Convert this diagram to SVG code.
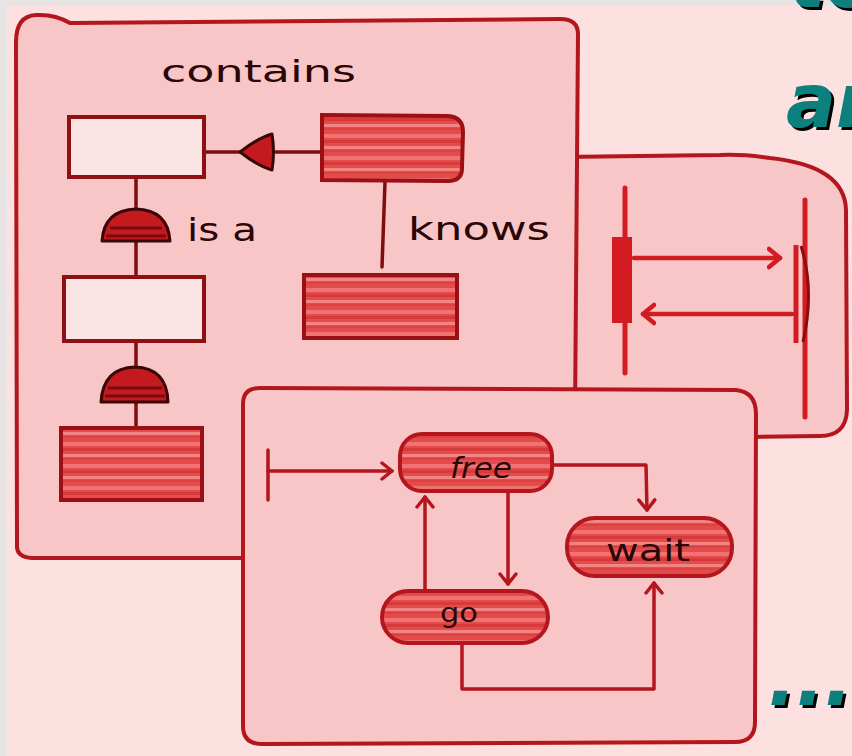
<svg xmlns="http://www.w3.org/2000/svg" width="852" height="756" viewBox="0 0 852 756">
  <style>
    .panel { fill: #f8c6c6; stroke: #b3161c; stroke-width: 4; stroke-linejoin: round; }
    .white { fill: #fbe4e4; stroke: #8e1014; stroke-width: 4; }
    .red { fill: url(#streak); stroke: #9a1014; stroke-width: 4; }
    .pill { fill: url(#streak); stroke: #b3161c; stroke-width: 4; }
    .link { fill: none; stroke: #7e0c10; stroke-width: 3.5; stroke-linecap: round; }
    .flow { fill: none; stroke: #b3161c; stroke-width: 3.5; stroke-linecap: round; stroke-linejoin: round; }
    .msg { fill: none; stroke: #d21c22; stroke-width: 4.5; stroke-linecap: round; }
    .life { fill: none; stroke: #d21c22; stroke-width: 5; stroke-linecap: round; }
    .hand { font-family: "DejaVu Sans", "Liberation Sans", sans-serif; fill: #2a0606; }
    .head { font-family: "DejaVu Sans", "Liberation Sans", sans-serif; font-weight: bold; font-style: italic; fill: #0b7f7c; filter: url(#shadow); }
  </style>
  <defs>
    <pattern id="streak" patternUnits="userSpaceOnUse" width="60" height="22">
      <rect width="60" height="22" fill="#e44c4c"/>
      <rect y="2" width="60" height="4" fill="#f07272"/>
      <rect y="8" width="60" height="3" fill="#d63a3a"/>
      <rect y="14" width="60" height="3" fill="#f28484"/>
      <rect y="18" width="60" height="2" fill="#dc4242"/>
    </pattern>
    <filter id="shadow" x="-10%" y="-10%" width="130%" height="130%">
      <feDropShadow dx="3" dy="3" stdDeviation="0" flood-color="#000" flood-opacity="1"/>
    </filter>
    <marker id="open" markerUnits="userSpaceOnUse" markerWidth="24" markerHeight="24" refX="12" refY="12" orient="auto">
      <path d="M2,4 L12,12 L2,20" fill="none" stroke="#b3161c" stroke-width="3.5" stroke-linecap="round" stroke-linejoin="round"/>
    </marker>
    <marker id="openMsg" markerUnits="userSpaceOnUse" markerWidth="26" markerHeight="26" refX="13" refY="13" orient="auto">
      <path d="M2,4 L13,13 L2,22" fill="none" stroke="#d21c22" stroke-width="4.5" stroke-linecap="round" stroke-linejoin="round"/>
    </marker>
  </defs>

  <!-- page -->
  <rect width="852" height="756" fill="#fde1e1"/>
  <rect width="852" height="6" fill="#e9e4e4"/>
  <rect width="7" height="756" fill="#e9e4e4"/>

  <!-- heading fragments and trailing ellipsis -->
  <text class="head" x="790" y="7" font-size="74">to</text>
  <text class="head" x="786" y="127" font-size="74">an</text>
  <text class="head" x="768" y="705" font-size="74">....</text>

  <!-- sequence panel (behind) -->
  <g id="panel-sequence">
    <path class="panel" d="M560 157 L720 155 Q742 154 770 158 Q845 166 846 210 L847 410 Q846 436 820 436 L740 437 L740 420 L560 420 Z"/>
    <line class="life" x1="625" y1="188" x2="625" y2="373"/>
    <rect x="612" y="237" width="20" height="86" fill="#d21c22"/>
    <line class="life" x1="805" y1="200" x2="805" y2="417"/>
    <path d="M796 245 L796 343" fill="none" stroke="#d21c22" stroke-width="5"/>
    <path d="M801 246 Q815 290 803 342" fill="none" stroke="#8a0c10" stroke-width="3"/>
    <line class="msg" x1="634" y1="258" x2="780" y2="258" marker-end="url(#openMsg)"/>
    <line class="msg" x1="792" y1="314" x2="643" y2="314" marker-end="url(#openMsg)"/>
  </g>

  <!-- class panel -->
  <g id="panel-class">
    <path class="panel" d="M17 545 L16 42 Q16 16 36 15 Q55 14 70 23 L560 19 Q578 19 578 34 L574 545 Q574 558 560 558 L32 558 Q16 557 17 545 Z"/>
    <text class="hand" x="161" y="82" font-size="30" textLength="195" lengthAdjust="spacingAndGlyphs">contains</text>
    <text class="hand" x="187" y="241" font-size="32" textLength="70" lengthAdjust="spacingAndGlyphs">is a</text>
    <text class="hand" x="408" y="240" font-size="32" textLength="142" lengthAdjust="spacingAndGlyphs">knows</text>
  </g>

  <!-- connectors between class boxes -->
  <g id="class-connectors">
    <line class="link" x1="205" y1="152" x2="322" y2="152"/>
    <path d="M240 152 Q258 138 272 134 Q275 152 272 170 Q258 166 240 152 Z" fill="#c41a1e" stroke="#3a0606" stroke-width="3" stroke-linejoin="round"/>
    <line class="link" x1="136" y1="178" x2="136" y2="277"/>
    <path d="M102 241 Q104 210 136 209 Q168 210 170 241 Z" fill="#c41a1e" stroke="#3a0606" stroke-width="3" stroke-linejoin="round"/>
    <path d="M110 228 L162 228 M106 236 L166 236" stroke="#7a0a0e" stroke-width="3"/>
    <line class="link" x1="136" y1="343" x2="136" y2="427"/>
    <path d="M101 402 Q103 368 135 367 Q167 368 168 402 Z" fill="#c41a1e" stroke="#3a0606" stroke-width="3" stroke-linejoin="round"/>
    <path d="M108 388 L162 388 M105 396 L165 396" stroke="#7a0a0e" stroke-width="3"/>
    <line class="link" x1="385" y1="182" x2="382" y2="267"/>
  </g>

  <g id="box-whole"><rect class="white" x="69" y="117" width="135" height="60"/></g>
  <g id="box-part"><path class="red" d="M322 115 L448 116 Q463 117 463 132 L462 168 Q462 181 448 181 L322 180 Z"/></g>
  <g id="box-general"><rect class="white" x="64" y="277" width="140" height="64"/></g>
  <g id="box-special"><rect class="red" x="61" y="428" width="141" height="72"/></g>
  <g id="box-known"><rect class="red" x="304" y="275" width="153" height="63"/></g>

  <!-- state panel (front) -->
  <g id="panel-state">
    <path class="panel" d="M243 404 Q243 388 260 388 L736 390 Q756 392 756 414 L755 722 Q755 742 735 742 L262 744 Q243 744 243 726 Z"/>
  </g>

  <g id="state-connectors">
    <line class="flow" x1="268" y1="450" x2="268" y2="500"/>
    <line class="flow" x1="268" y1="471" x2="392" y2="471" marker-end="url(#open)"/>
    <path class="flow" d="M553 465 L646 465 L647 510" marker-end="url(#open)"/>
    <line class="flow" x1="508" y1="492" x2="508" y2="584" marker-end="url(#open)"/>
    <line class="flow" x1="425" y1="590" x2="425" y2="497" marker-end="url(#open)"/>
    <path class="flow" d="M462 644 L462 689 L654 689 L654 583" marker-end="url(#open)"/>
  </g>

  <g id="state-free">
    <rect class="pill" x="400" y="434" width="152" height="57" rx="22"/>
    <text class="hand" x="450" y="478" font-size="28" font-style="italic" textLength="62" lengthAdjust="spacingAndGlyphs">free</text>
  </g>
  <g id="state-wait">
    <rect class="pill" x="567" y="518" width="165" height="58" rx="28"/>
    <text class="hand" x="606" y="561" font-size="30" textLength="84" lengthAdjust="spacingAndGlyphs">wait</text>
  </g>
  <g id="state-go">
    <rect class="pill" x="382" y="591" width="166" height="52" rx="26"/>
    <text class="hand" x="440" y="622" font-size="26" textLength="38" lengthAdjust="spacingAndGlyphs">go</text>
  </g>
</svg>
